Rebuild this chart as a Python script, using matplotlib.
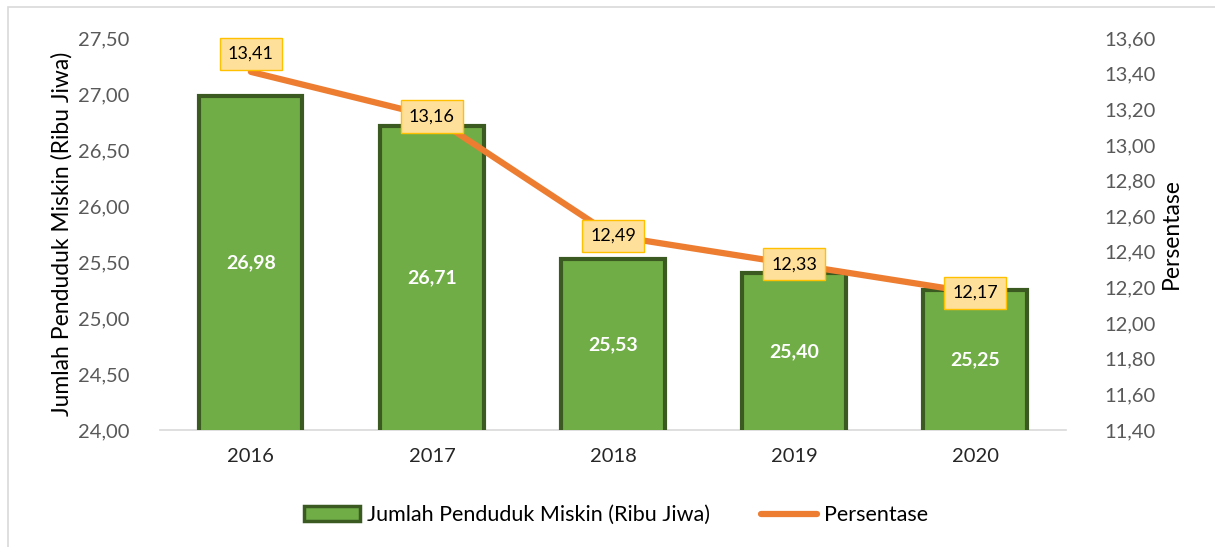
import matplotlib.pyplot as plt
from matplotlib.patches import Rectangle
from matplotlib.lines import Line2D
from matplotlib.ticker import FuncFormatter, MultipleLocator

plt.rcParams['font.family'] = ['Lato', 'DejaVu Sans']

# Data
years = ['2016', '2017', '2018', '2019', '2020']
jumlah = [26.98, 26.71, 25.53, 25.40, 25.25]
persentase = [13.41, 13.16, 12.49, 12.33, 12.17]

bar_color = '#70AD47'
bar_edge = '#3A5A22'
line_color = '#ED7D31'
tick_color = '#595959'


def koma(v, pos=None):
    return f"{v:.2f}".replace('.', ',')


fig = plt.figure(figsize=(12.15, 5.47), dpi=100)
fig.patches.append(Rectangle((8 / 1215, -0.1), 1.2, 1 - 7 / 547 + 0.1,
                             transform=fig.transFigure, fill=False,
                             edgecolor='#D9D9D9', linewidth=1.2))

ax = fig.add_axes([0.132, 0.214, 0.745, 0.7165])
x = list(range(len(years)))

bars = ax.bar(x, jumlah, width=0.57, bottom=0, color=bar_color,
              edgecolor=bar_edge, linewidth=3, zorder=2)
ax.set_ylim(24, 27.5)
ax.set_xlim(-0.5, len(years) - 0.5)
ax.yaxis.set_major_locator(MultipleLocator(0.5))
ax.yaxis.set_major_formatter(FuncFormatter(koma))
ax.set_xticks(x)
ax.set_xticklabels(years)

for xi, v in zip(x, jumlah):
    ax.text(xi, (24 + v) / 2, koma(v), ha='center', va='center',
            color='white', fontsize=14, fontweight='bold', zorder=3)

for side in ['top', 'right', 'left']:
    ax.spines[side].set_visible(False)
ax.spines['bottom'].set_color('#D9D9D9')
ax.spines['bottom'].set_linewidth(1.2)
ax.spines['bottom'].set_zorder(1)
ax.tick_params(axis='both', length=0, labelsize=14.5, colors='#404040')
ax.tick_params(axis='y', labelcolor=tick_color, pad=22)
ax.tick_params(axis='x', labelcolor='#262626', pad=13)
ax.set_ylabel('Jumlah Penduduk Miskin (Ribu Jiwa)', fontsize=16.5, labelpad=4)

ax2 = ax.twinx()
ax2.plot(x, persentase, color=line_color, linewidth=4.5,
         solid_capstyle='round', zorder=3)
ax2.set_ylim(11.4, 13.6)
ax2.yaxis.set_major_locator(MultipleLocator(0.2))
ax2.yaxis.set_major_formatter(FuncFormatter(koma))
for side in ['top', 'right', 'left', 'bottom']:
    ax2.spines[side].set_visible(False)
ax2.tick_params(axis='y', length=0, labelsize=14.5, labelcolor=tick_color, pad=28)
ax2.set_ylabel('Persentase', fontsize=16.5, labelpad=4)

for i, (xi, v) in enumerate(zip(x, persentase)):
    dy = 13 if i == 0 else 0
    ax2.annotate(koma(v), (xi, v), xytext=(0, dy), textcoords='offset points',
                 ha='center', va='center', fontsize=13, color='black', zorder=4,
                 bbox=dict(boxstyle='square,pad=0.45', facecolor='#FFE09A',
                           edgecolor='#FFC000', linewidth=1))

handles = [Rectangle((0, 0), 1, 1, facecolor=bar_color, edgecolor=bar_edge,
                     linewidth=2.5),
           Line2D([0], [0], color=line_color, linewidth=4.5,
                  solid_capstyle='round')]
fig.legend(handles, ['Jumlah Penduduk Miskin (Ribu Jiwa)', 'Persentase'],
           loc='center', bbox_to_anchor=(0.507, 0.058), ncol=2, frameon=False,
           fontsize=15.5, handlelength=2.6, handletextpad=0.3, columnspacing=2.4)

fig.savefig('out.png', dpi=100)
